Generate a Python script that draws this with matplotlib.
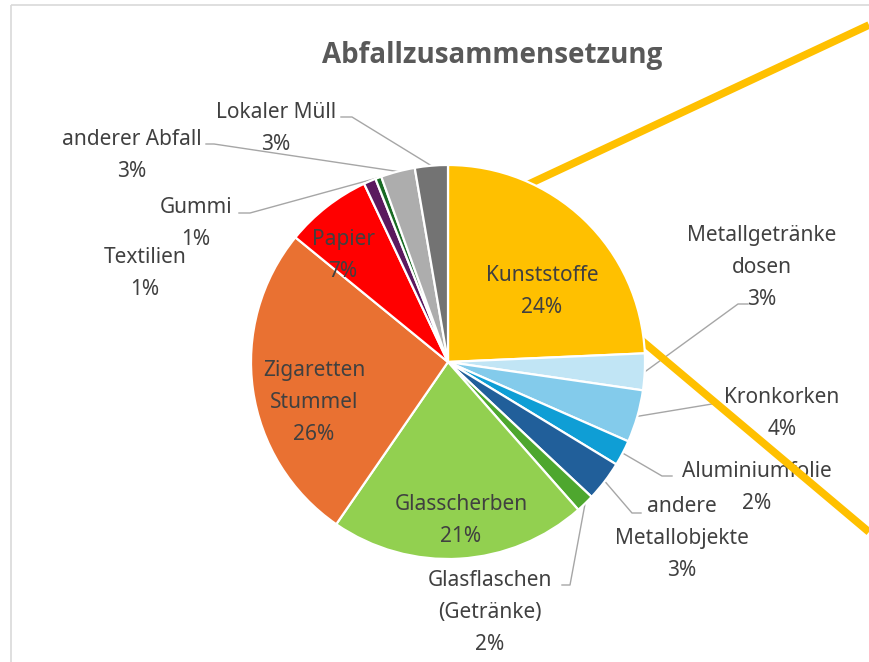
import matplotlib
matplotlib.use("Agg")
import matplotlib.pyplot as plt
import numpy as np

# ---------------- data ----------------
categories = [
    "Kunststoffe", "Metallgetränke\ndosen", "Kronkorken", "Aluminiumfolie",
    "andere\nMetallobjekte", "Glasflaschen\n(Getränke)", "Glasscherben",
    "Zigaretten\nStummel", "Papier", "Textilien", "Gummi",
    "anderer Abfall", "Lokaler Müll",
]
shares = [24.3, 3.0, 4.3, 2.1, 3.3, 1.5, 21.1, 26.3, 7.1, 1.0, 0.5, 2.8, 2.7]
colors = [
    "#FFC000", "#C1E5F5", "#83CBEB", "#0F9ED5", "#215F9A", "#4EA72E", "#92D050",
    "#E97132", "#FF0000", "#5B1A5E", "#196B24", "#ADADAD", "#737373",
]
title = "Abfallzusammensetzung"

# ---------------- layout (pixel coordinates, y downwards) ----------------
W, H = 869, 662
CX, CY, R = 448, 362, 197
line_gap = 32
# label block: (x centre, y of first line)
label_pos = [
    (542, 273), (762, 233), (782, 395), (757, 469), (682, 504), (490, 578),
    (461, 502), (314, 368), (343, 237), (145, 255), (196, 205), (132, 137),
    (276, 110),
]
inside = [True, False, False, False, False, False, True, True, True,
          False, False, False, False]
# leader line: elbow point and end point (None = no leader)
leaders = [
    None,
    ((738, 304), (748, 304)),
    ((712, 404), (721, 404)),
    ((662, 476), (672, 476)),
    ((632, 513), (641, 513)),
    ((570, 585), (562, 585)),
    None, None, None, None,
    ((250, 213), (239, 213)),
    ((214, 144), (206, 144)),
    ((352, 117), (341, 117)),
]
label_font = "Noto Sans"
TXT = "#404040"
text_dy = 2.5


def Y(y):
    return H - y


fig = plt.figure(figsize=(W / 100, H / 100), dpi=100)
ax = fig.add_axes([0, 0, 1, 1])
ax.set_xlim(0, W)
ax.set_ylim(0, H)
ax.axis("off")

wedges, _ = ax.pie(
    shares, colors=colors, startangle=90, counterclock=False,
    center=(CX, Y(CY)), radius=R,
    wedgeprops=dict(edgecolor="white", linewidth=1.6, zorder=3),
)
for w in wedges:
    w.set_zorder(3)
ax.set_xlim(0, W)
ax.set_ylim(0, H)
ax.set_aspect("auto")

# chart frame (light grey)
ax.plot([11, W], [Y(5), Y(5)], color="#D9D9D9", lw=1.2, zorder=0,
        solid_capstyle="butt")
ax.plot([11, 11], [Y(5), 0], color="#D9D9D9", lw=1.2, zorder=0,
        solid_capstyle="butt")

# yellow overlay lines (pass behind the pie)
apex = (482, 206)
ax.plot([W, apex[0]], [Y(25), Y(apex[1])], color="#FFC000", lw=5.5,
        zorder=2, solid_capstyle="butt")
ax.plot([apex[0], W], [Y(apex[1]), Y(532)], color="#FFC000", lw=5.5,
        zorder=2, solid_capstyle="butt")

# title
ax.text(492, Y(53 + text_dy), title, ha="center", va="center", fontsize=20,
        fontweight="bold", color="#595959",
        family=["Open Sans", "Roboto", "DejaVu Sans"], zorder=6)

# labels
total = sum(shares)
cum = np.cumsum([0] + shares)
for i, (cat, val) in enumerate(zip(categories, shares)):
    pct = f"{int(val / total * 100 + 0.5)}%"
    lines = cat.split("\n") + [pct]
    x0, y0 = label_pos[i]
    z = 5 if inside[i] else 1
    for k, ln in enumerate(lines):
        ax.text(x0, Y(y0 + k * line_gap + text_dy), ln, ha="center",
                va="center", fontsize=15, color=TXT, family=label_font,
                zorder=z)
    if leaders[i] is not None:
        mid = (cum[i] + cum[i + 1]) / 2 / total * 2 * np.pi
        px = CX + R * np.sin(mid)
        py = CY - R * np.cos(mid)
        (ex, ey), (tx, ty) = leaders[i]
        ax.plot([px, ex, tx], [Y(py), Y(ey), Y(ty)], color="#A6A6A6",
                lw=1.0, zorder=1)

fig.savefig("out.png", dpi=100)
